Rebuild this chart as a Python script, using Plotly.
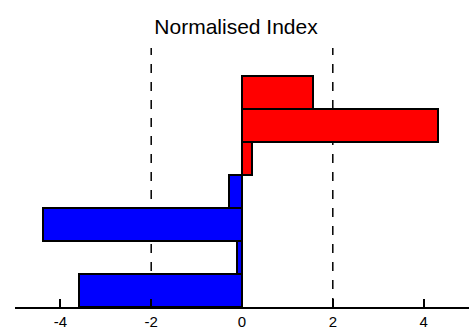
import plotly.graph_objects as go

# Normalised index per item, listed from top to bottom
values = [1.57, 4.32, 0.23, -0.29, -4.38, -0.12, -3.59]
threshold_lines = [-2, 2]
tick_values = [-4, -2, 0, 2, 4]
tick_labels = ["-4", "-2", "0", "2", "4"]

n = len(values)
positions = [n - i for i in range(n)]
colors = ["#ff0000" if v >= 0 else "#0000ff" for v in values]

fig = go.Figure()
fig.add_trace(go.Bar(
    x=values,
    y=positions,
    orientation="h",
    width=1,
    marker=dict(color=colors, line=dict(color="black", width=2)),
    showlegend=False,
    hoverinfo="x",
))

for t in threshold_lines:
    fig.add_shape(
        type="line", xref="x", yref="paper",
        x0=t, x1=t, y0=0, y1=1,
        line=dict(color="black", width=1.5, dash="dash"),
        layer="below",
    )

fig.update_layout(
    width=472, height=327,
    margin=dict(l=15, r=3, t=48, b=20, autoexpand=False),
    paper_bgcolor="white",
    plot_bgcolor="white",
    font=dict(family="Liberation Sans, Arial, sans-serif", color="black"),
    title=dict(text="Normalised Index", x=0.5, xref="container", xanchor="center",
               y=1 - 27 / 327, yref="container", yanchor="middle",
               font=dict(size=21, color="black")),
    bargap=0,
)
fig.update_xaxes(
    range=[-5, 5],
    tickvals=tick_values, ticktext=tick_labels,
    ticks="inside", ticklen=8, tickwidth=1.5, tickcolor="black",
    showline=True, linecolor="black", linewidth=2,
    showgrid=False, zeroline=False, automargin=False,
    tickfont=dict(size=15, color="black"),
)
fig.update_yaxes(
    range=[0.5, n + 1.34],
    visible=False, showgrid=False, zeroline=False,
)

fig.write_html("out.html")
